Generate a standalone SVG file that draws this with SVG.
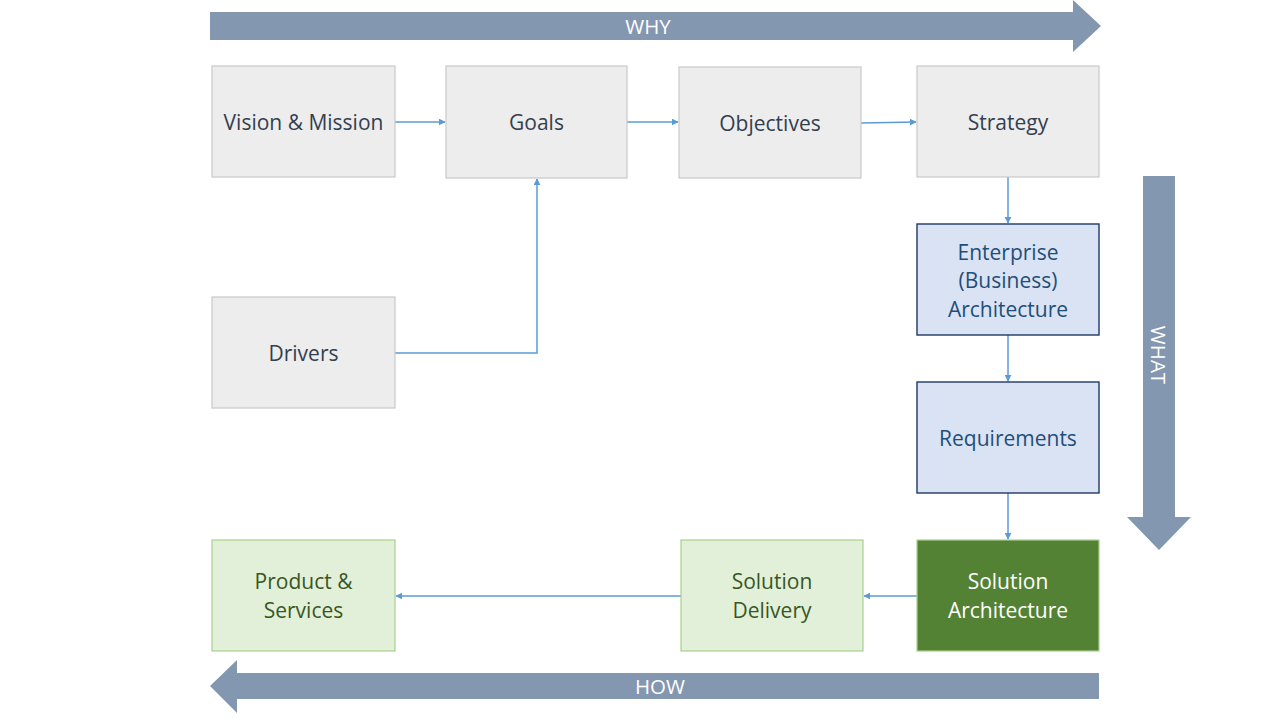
<svg xmlns="http://www.w3.org/2000/svg" width="1280" height="720" viewBox="0 0 1280 720">
<style>
text{font-family:"Open Sans","Liberation Sans",sans-serif;font-size:21px;text-anchor:middle;dominant-baseline:central}
.gray rect{fill:#ededed;stroke:#c9c9c9;stroke-width:1.2}
.gray text{fill:#333f4f}
.blue rect{fill:#dae3f3;stroke:#203864;stroke-width:1.4}
.blue text{fill:#1f4e79}
.lg rect{fill:#e2f0d9;stroke:#a9d18e;stroke-width:1.2}
.lg text{fill:#385723}
.dg rect{fill:#548235;stroke:#a9d18e;stroke-width:1.2}
.dg text{fill:#ffffff}
.big{fill:#8497b0}
.bigt{fill:#ffffff;font-size:20.5px}
#connectors path{fill:none;stroke:#5b9bd5;stroke-width:1.5;marker-end:url(#ah)}
</style>
<defs>
<marker id="ah" viewBox="0 0 10 10" refX="9" refY="5" markerWidth="7" markerHeight="7" markerUnits="userSpaceOnUse" orient="auto">
<path d="M0,0 L10,5 L0,10 Z" fill="#5b9bd5"/>
</marker>
</defs>
<rect width="1280" height="720" fill="#ffffff"/>
<g id="why-arrow">
<polygon class="big" points="210,12 1073,12 1073,0 1101,26 1073,52 1073,40 210,40"/>
<text class="bigt" x="648" y="26">WHY</text>
</g>
<g id="what-arrow">
<polygon class="big" points="1143,176 1175,176 1175,517 1191,517 1159,550 1127,517 1143,517"/>
<text class="bigt" x="1159" y="355" transform="rotate(90 1159 355)">WHAT</text>
</g>
<g id="how-arrow">
<polygon class="big" points="1099,673 1099,699 237,699 237,713 210,686 237,660 237,673"/>
<text class="bigt" x="660" y="686">HOW</text>
</g>
<g id="connectors">
<path d="M395,122 H445"/>
<path d="M627,122 H678"/>
<path d="M861,123 L916,122"/>
<path d="M1008,177 V223"/>
<path d="M1008,335 V381"/>
<path d="M1008,493 V539"/>
<path d="M917,596 H864"/>
<path d="M681,596 H396"/>
<path d="M395,353 H537 V179"/>
</g>
<g id="vision" class="gray"><rect x="212" y="66" width="183" height="111"/><text x="303.5" y="122">Vision &amp; Mission</text></g>
<g id="goals" class="gray"><rect x="446" y="66" width="181" height="112"/><text x="536.5" y="122">Goals</text></g>
<g id="objectives" class="gray"><rect x="679" y="67" width="182" height="111"/><text x="770" y="123">Objectives</text></g>
<g id="strategy" class="gray"><rect x="917" y="66" width="182" height="111"/><text x="1008" y="122">Strategy</text></g>
<g id="drivers" class="gray"><rect x="212" y="297" width="183" height="111"/><text x="303.5" y="353">Drivers</text></g>
<g id="enterprise" class="blue"><rect x="917" y="224" width="182" height="111"/><text x="1008" y="252">Enterprise</text><text x="1008" y="280">(Business)</text><text x="1008" y="309">Architecture</text></g>
<g id="requirements" class="blue"><rect x="917" y="382" width="182" height="111"/><text x="1008" y="438">Requirements</text></g>
<g id="solution-architecture" class="dg"><rect x="917" y="540" width="182" height="111"/><text x="1008" y="581">Solution</text><text x="1008" y="610">Architecture</text></g>
<g id="solution-delivery" class="lg"><rect x="681" y="540" width="182" height="111"/><text x="772" y="581">Solution</text><text x="772" y="610">Delivery</text></g>
<g id="products" class="lg"><rect x="212" y="540" width="183" height="111"/><text x="303.5" y="581">Product &amp;</text><text x="303.5" y="610">Services</text></g>
</svg>
